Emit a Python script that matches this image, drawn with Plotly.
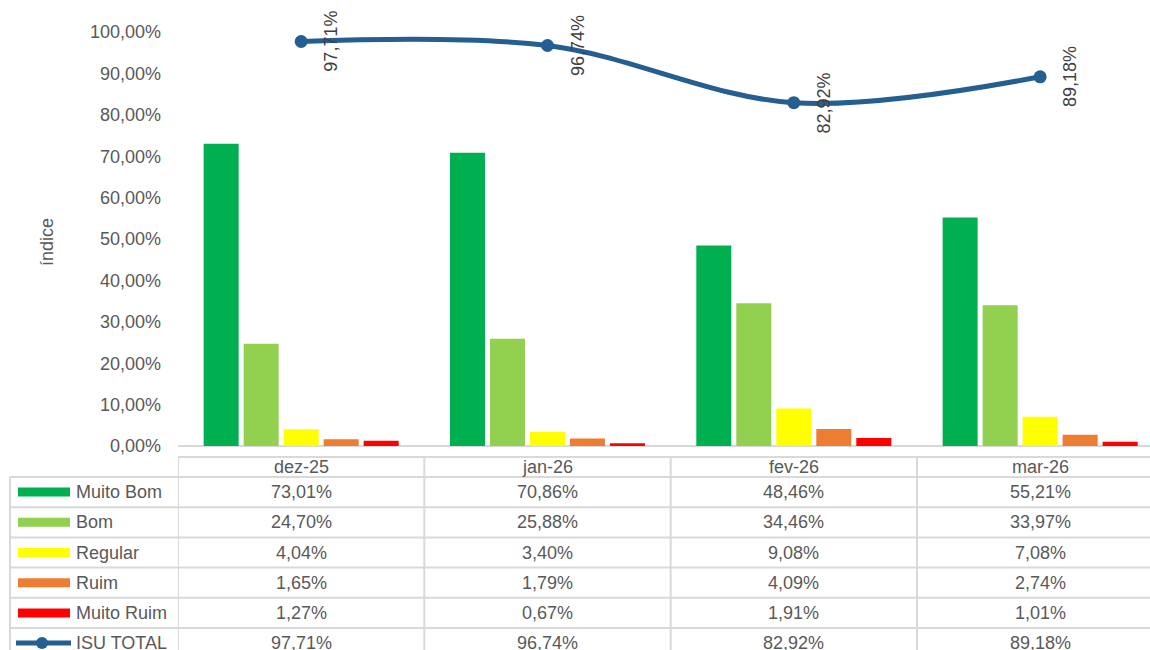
import plotly.graph_objects as go

# ---- data ----
months = ["dez-25", "jan-26", "fev-26", "mar-26"]
muito_bom = [73.01, 70.86, 48.46, 55.21]
bom = [24.70, 25.88, 34.46, 33.97]
regular = [4.04, 3.40, 9.08, 7.08]
ruim = [1.65, 1.79, 4.09, 2.74]
muito_ruim = [1.27, 0.67, 1.91, 1.01]
isu_total = [97.71, 96.74, 82.92, 89.18]
y_ticks = [0, 10, 20, 30, 40, 50, 60, 70, 80, 90, 100]

bar_series = [
    ("Muito Bom", muito_bom, "#00B050"),
    ("Bom", bom, "#92D050"),
    ("Regular", regular, "#FFFF00"),
    ("Ruim", ruim, "#ED7D31"),
    ("Muito Ruim", muito_ruim, "#FF0000"),
]
line_name = "ISU TOTAL"
line_color = "#255E91"

FONT = "Liberation Sans, Arial, sans-serif"
TXT = "#595959"
GRID = "#D9D9D9"
FS = 18

# ---- page geometry (pixels) ----
W, H = 1150, 650
L, T, B = 178, 32, 446          # plot left, top, bottom
PW, PH = W - L, B - T


def px(x):
    return (x - L) / PW


def py(y):
    return (B - y) / PH


def pct(v):
    return f"{v:.2f}".replace(".", ",") + "%"


xs = list(range(len(months)))
fig = go.Figure()

for name, vals, color in bar_series:
    fig.add_trace(go.Bar(x=xs, y=vals, name=name, marker=dict(color=color, line=dict(width=0)),
                         showlegend=False))

fig.add_trace(go.Scatter(
    x=xs, y=isu_total, name=line_name, mode="lines+markers",
    line=dict(color=line_color, width=5, shape="spline", smoothing=1.0),
    marker=dict(size=13, color=line_color), showlegend=False, cliponaxis=False))

annotations = []
shapes = []

# rotated value labels on the line
for i, v in enumerate(isu_total):
    annotations.append(dict(x=i, y=v, xref="x", yref="y", text=pct(v), showarrow=False,
                            xanchor="center", yanchor="middle",
                            textangle=-90, xshift=30, font=dict(family=FONT, size=FS, color="#404040")))

# y-axis title
annotations.append(dict(x=px(47), y=py(242), xref="paper", yref="paper", text="índice",
                        xanchor="center", yanchor="middle",
                        showarrow=False, textangle=-90, font=dict(family=FONT, size=FS, color=TXT)))

# ---- data table below the plot ----
line_style = dict(color=GRID, width=2)
header_top, header_bot = 457, 477
row_h = 30.2
n_rows = len(bar_series) + 1
row_lines = [header_bot + k * row_h for k in range(n_rows + 1)]
table_left = 10
col_edges = [-0.5, 0.5, 1.5, 2.5]

# header row
shapes.append(dict(type="line", xref="paper", yref="paper", x0=0, x1=1,
                   y0=py(header_top), y1=py(header_top), line=line_style))
# horizontal row borders
for yl in row_lines:
    shapes.append(dict(type="line", xref="paper", yref="paper", x0=px(table_left), x1=1,
                       y0=py(yl), y1=py(yl), line=line_style))
# vertical borders
for ce in col_edges:
    shapes.append(dict(type="line", xref="x", yref="paper", x0=ce, x1=ce,
                       y0=py(header_top), y1=py(row_lines[-1]), line=line_style))
shapes.append(dict(type="line", xref="paper", yref="paper", x0=px(table_left), x1=px(table_left),
                   y0=py(header_bot), y1=py(row_lines[-1]), line=line_style))

# header labels
for i, m in enumerate(months):
    annotations.append(dict(x=i, y=py((header_top + header_bot) / 2), xref="x", yref="paper",
                            xanchor="center", yanchor="middle",
                            text=m, showarrow=False, font=dict(family=FONT, size=FS, color=TXT)))

rows = [(n, v, c) for n, v, c in bar_series] + [(line_name, isu_total, line_color)]
for r, (name, vals, color) in enumerate(rows):
    yc = (row_lines[r] + row_lines[r + 1]) / 2
    # legend key
    if r < len(bar_series):
        shapes.append(dict(type="rect", xref="paper", yref="paper", x0=px(18), x1=px(70),
                           y0=py(yc - 4.5), y1=py(yc + 4.5), fillcolor=color, line=dict(width=0)))
    else:
        shapes.append(dict(type="line", xref="paper", yref="paper", x0=px(16), x1=px(71),
                           y0=py(yc), y1=py(yc), line=dict(color=color, width=5)))
        shapes.append(dict(type="circle", xref="paper", yref="paper", x0=px(36), x1=px(48),
                           y0=py(yc + 6), y1=py(yc - 6), fillcolor=color, line=dict(width=0)))
    annotations.append(dict(x=px(74), y=py(yc), xref="paper", yref="paper", text=name,
                            xanchor="left", yanchor="middle",
                            showarrow=False, font=dict(family=FONT, size=FS, color=TXT)))
    for i, v in enumerate(vals):
        annotations.append(dict(x=i, y=py(yc), xref="x", yref="paper", text=pct(v),
                                xanchor="center", yanchor="middle",
                                showarrow=False, font=dict(family=FONT, size=FS, color=TXT)))

fig.update_layout(
    width=W, height=H,
    margin=dict(l=L, r=0, t=T, b=H - B, pad=0),
    paper_bgcolor="white", plot_bgcolor="white",
    barmode="group", bargap=0.188, bargroupgap=0.125,
    font=dict(family=FONT, size=FS, color=TXT),
    hovermode=False,
    xaxis=dict(range=[-0.5, 3.446], showticklabels=False, showgrid=False, zeroline=False,
               showline=False, fixedrange=True),
    yaxis=dict(range=[0, 100], tickmode="array", tickvals=y_ticks,
               ticktext=[pct(t) for t in y_ticks], showgrid=False, zeroline=True,
               zerolinecolor=GRID, zerolinewidth=2, showline=False, ticks="",
               ticklabelstandoff=16, tickfont=dict(family=FONT, size=FS, color=TXT)),
    annotations=annotations, shapes=shapes,
)

fig.write_html("out.html")
